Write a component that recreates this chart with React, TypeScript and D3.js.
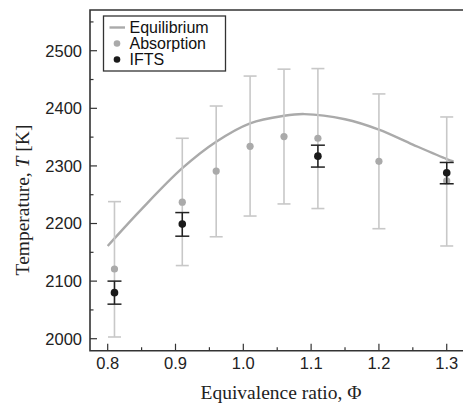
import React, { useEffect, useRef } from 'react'
import * as d3 from 'd3'

// equilibrium curve
const eqPhi = [0.8, 0.85, 0.91, 0.96, 1.01, 1.06, 1.09, 1.15, 1.2, 1.25, 1.3, 1.31]
const eqTemp = [2161, 2225, 2296, 2342, 2374, 2387, 2390, 2381, 2363, 2337, 2312, 2308]

// absorption measurements
const absPhi = [0.81, 0.91, 0.96, 1.01, 1.06, 1.11, 1.2, 1.3]
const absTemp = [2121, 2237, 2291, 2334, 2351, 2348, 2308, 2274]
const absLow = [2003, 2127, 2177, 2213, 2234, 2226, 2191, 2161]
const absHigh = [2238, 2348, 2404, 2456, 2468, 2469, 2425, 2385]

// IFTS measurements
const iftsPhi = [0.81, 0.91, 1.11, 1.3]
const iftsTemp = [2080, 2199, 2317, 2288]
const iftsLow = [2060, 2178, 2298, 2269]
const iftsHigh = [2100, 2219, 2336, 2306]

const xTicks = [0.8, 0.9, 1.0, 1.1, 1.2, 1.3]
const yTicks = [2000, 2100, 2200, 2300, 2400, 2500]

const W = 463
const H = 407

const App = () => {
  const ref = useRef<SVGSVGElement>(null)

  useEffect(() => {
    const svg = d3.select(ref.current)
    svg.selectAll('*').remove()

    const left = 90, right = 463, top = 10, bottom = 350.7
    const x = d3.scaleLinear().domain([0.7739, 1.324]).range([left, right])
    const y = d3.scaleLinear().domain([1979.2, 2570.7]).range([bottom, top])
    const axisColor = '#333'
    const sans = 'Liberation Sans, Arial, sans-serif'
    const serif = 'Liberation Serif, Times New Roman, serif'

    // frame: left, bottom, top
    svg.append('path')
      .attr('d', `M${right},${top}H${left}V${bottom}H${right}`)
      .attr('fill', 'none')
      .attr('stroke', axisColor)
      .attr('stroke-width', 1.6)

    // x ticks (inward)
    const xMinor = d3.range(0.8, 1.33, 0.05)
    svg.selectAll('.xminor').data(xMinor).enter().append('line')
      .attr('x1', d => x(d)).attr('x2', d => x(d))
      .attr('y1', bottom).attr('y2', d => bottom - (Math.abs(d * 10 - Math.round(d * 10)) < 0.01 ? 7 : 3.5))
      .attr('stroke', axisColor).attr('stroke-width', 1.2)
    svg.selectAll('.xlab').data(xTicks).enter().append('text')
      .attr('x', d => x(d)).attr('y', 368.5)
      .attr('text-anchor', 'middle')
      .attr('font-family', sans).attr('font-size', 16.5).attr('fill', '#222')
      .text(d => d.toFixed(1))

    // y ticks (inward)
    const yMinor = d3.range(2000, 2551, 50)
    svg.selectAll('.yminor').data(yMinor).enter().append('line')
      .attr('x1', left).attr('x2', d => left + (d % 100 === 0 ? 7 : 3.5))
      .attr('y1', d => y(d)).attr('y2', d => y(d))
      .attr('stroke', axisColor).attr('stroke-width', 1.2)
    svg.selectAll('.ylab').data(yTicks).enter().append('text')
      .attr('x', 82).attr('y', d => y(d))
      .attr('dy', '0.36em')
      .attr('text-anchor', 'end')
      .attr('font-family', sans).attr('font-size', 16.5).attr('fill', '#222')
      .text(d => d)

    // axis titles
    svg.append('text')
      .attr('x', 281).attr('y', 398.5)
      .attr('text-anchor', 'middle')
      .attr('font-family', serif).attr('font-size', 19.5).attr('fill', '#222')
      .text('Equivalence ratio, Φ')
    const yt = svg.append('text')
      .attr('transform', 'translate(29,200) rotate(-90)')
      .attr('text-anchor', 'middle')
      .attr('font-family', serif).attr('font-size', 19.5).attr('fill', '#222')
    yt.append('tspan').text('Temperature, ')
    yt.append('tspan').attr('font-style', 'italic').text('T')
    yt.append('tspan').text(' [K]')

    // equilibrium line
    const line = d3.line<number>()
      .x((d, i) => x(eqPhi[i]))
      .y(d => y(d))
      .curve(d3.curveCatmullRom)
    svg.append('path')
      .attr('d', line(eqTemp))
      .attr('fill', 'none')
      .attr('stroke', '#aaa')
      .attr('stroke-width', 2.4)

    // error bars helper
    const errBars = (phis: number[], lo: number[], hi: number[], color: string, cap: number, sw: number) => {
      const g = svg.append('g').attr('stroke', color).attr('stroke-width', sw).attr('fill', 'none')
      phis.forEach((p, i) => {
        const cx = x(p)
        g.append('line').attr('x1', cx).attr('x2', cx).attr('y1', y(lo[i])).attr('y2', y(hi[i]))
        g.append('line').attr('x1', cx - cap / 2).attr('x2', cx + cap / 2).attr('y1', y(lo[i])).attr('y2', y(lo[i]))
        g.append('line').attr('x1', cx - cap / 2).attr('x2', cx + cap / 2).attr('y1', y(hi[i])).attr('y2', y(hi[i]))
      })
    }

    errBars(absPhi, absLow, absHigh, '#c8c8c8', 13, 1.6)
    svg.selectAll('.abs').data(absTemp).enter().append('circle')
      .attr('cx', (d, i) => x(absPhi[i])).attr('cy', d => y(d))
      .attr('r', 3.6).attr('fill', '#aaa')

    errBars(iftsPhi, iftsLow, iftsHigh, '#222', 14, 1.5)
    svg.selectAll('.ifts').data(iftsTemp).enter().append('circle')
      .attr('cx', (d, i) => x(iftsPhi[i])).attr('cy', d => y(d))
      .attr('r', 3.8).attr('fill', '#1a1a1a')

    // legend
    const lg = svg.append('g')
    lg.append('rect')
      .attr('x', 103.5).attr('y', 16).attr('width', 122).attr('height', 55)
      .attr('fill', '#fff').attr('stroke', '#333').attr('stroke-width', 1.3)
    lg.append('line')
      .attr('x1', 109.5).attr('x2', 125).attr('y1', 27.5).attr('y2', 27.5)
      .attr('stroke', '#aaa').attr('stroke-width', 2.4)
    lg.append('circle').attr('cx', 117).attr('cy', 43.5).attr('r', 3.3).attr('fill', '#aaa')
    lg.append('circle').attr('cx', 117).attr('cy', 59.5).attr('r', 3.3).attr('fill', '#1a1a1a')
    const names = ['Equilibrium', 'Absorption', 'IFTS']
    lg.selectAll('.lt').data(names).enter().append('text')
      .attr('x', 129.5).attr('y', (d, i) => 27.5 + i * 16)
      .attr('dy', '0.36em')
      .attr('font-family', sans).attr('font-size', 16).attr('fill', '#111')
      .text(d => d)
  }, [])

  return (
    <svg ref={ref} width={W} height={H} style={{ position: 'absolute', left: 0, top: 0, background: '#fff' }} />
  )
}

export default App
